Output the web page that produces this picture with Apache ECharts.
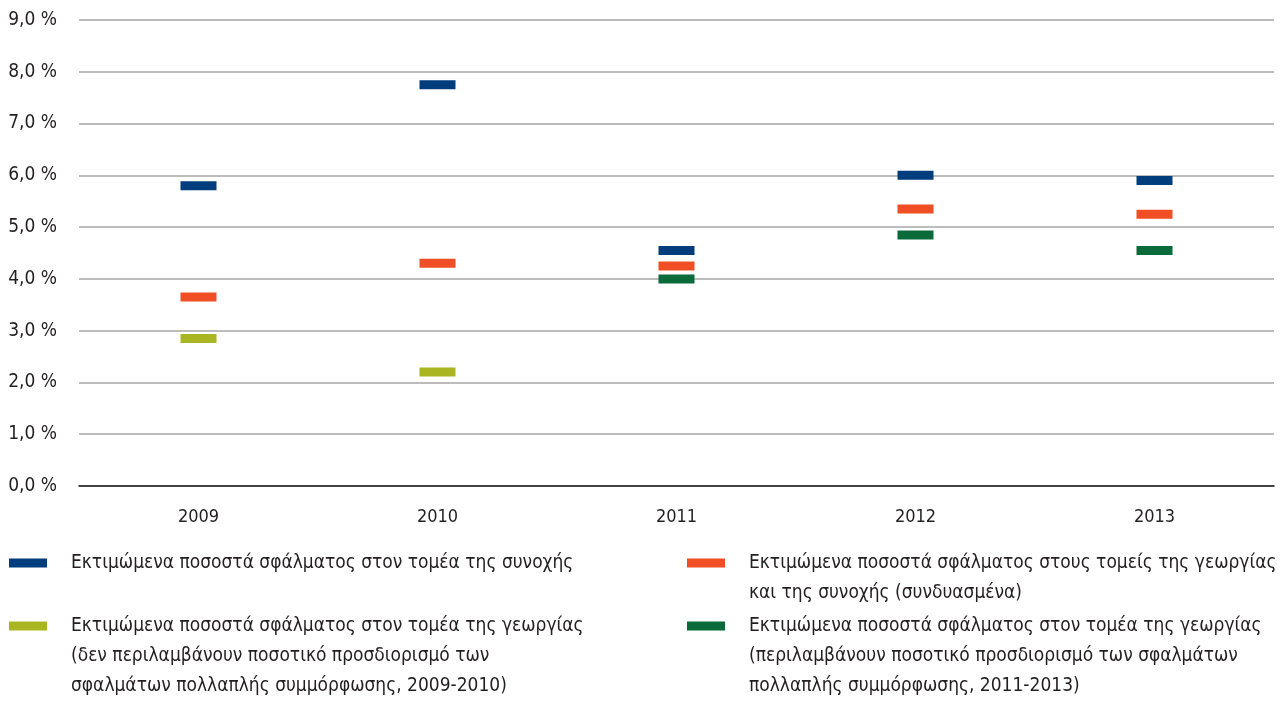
<!DOCTYPE html>
<html>
<head>
<meta charset="utf-8">
<script src="https://cdn.jsdelivr.net/npm/echarts@6/dist/echarts.min.js"></script>
<style>
  html, body { margin: 0; padding: 0; background: #fff; }
  #chart { width: 1287px; height: 702px; }
</style>
</head>
<body>
<div id="chart"></div>
<script>
// data
const years = ['2009', '2010', '2011', '2012', '2013']
const cohesion = [5.8, 7.75, 4.55, 6.0, 5.9]
const combined = [3.65, 4.3, 4.25, 5.35, 5.25]
const agriNoCC = [2.85, 2.2, null, null, null]
const agriCC = [null, null, 4.0, 4.85, 4.55]

const names = [
  'Εκτιμώμενα ποσοστά σφάλματος στον τομέα της συνοχής',
  'Εκτιμώμενα ποσοστά σφάλματος στους τομείς της γεωργίας\nκαι της συνοχής (συνδυασμένα)',
  'Εκτιμώμενα ποσοστά σφάλματος στον τομέα της γεωργίας\n(δεν περιλαμβάνουν ποσοτικό προσδιορισμό των\nσφαλμάτων πολλαπλής συμμόρφωσης, 2009-2010)',
  'Εκτιμώμενα ποσοστά σφάλματος στον τομέα της γεωργίας\n(περιλαμβάνουν ποσοτικό προσδιορισμό των σφαλμάτων\nπολλαπλής συμμόρφωσης, 2011-2013)'
]
const colors = ['#003d7c', '#f04e25', '#a9b621', '#0b6a39']

const font = "'Liberation Sans Narrow', 'DejaVu Sans Condensed', sans-serif"
const lineH = 30

// one legend per item so the 2x2 block can be placed like the original.
// legend text is always centred on the icon, so blank lines are put in
// front of multi-line names to bring the icon level with the first line
function legendFor(name, left, iconCenter) {
  const lines = name.split('\n').length
  return {
    data: [name],
    left: left,
    top: iconCenter - (2 * lines - 1) * lineH / 2,
    padding: 0,
    icon: 'rect',
    itemWidth: 38,
    itemHeight: 9,
    formatter: n => '\n'.repeat(lines - 1) + n,
    textStyle: {
      fontFamily: font,
      fontSize: 19,
      color: '#231f20',
      lineHeight: lineH,
      padding: [0, 0, 0, 19]
    }
  }
}

const chart = echarts.init(document.getElementById('chart'))

const series = [cohesion, combined, agriNoCC, agriCC].map((vals, i) => ({
  name: names[i],
  type: 'scatter',
  symbol: 'rect',
  symbolSize: [36, 9],
  itemStyle: { color: colors[i], opacity: 1 },
  data: vals
}))

chart.setOption({
  animation: false,
  color: colors,
  grid: { left: 79, right: 13, top: 20, bottom: 216 },
  legend: [
    legendFor(names[0], 9, 563),
    legendFor(names[2], 9, 626),
    legendFor(names[1], 687, 563),
    legendFor(names[3], 687, 626)
  ],
  xAxis: {
    type: 'category',
    data: years,
    boundaryGap: true,
    axisTick: { show: false },
    axisLine: { lineStyle: { color: '#1a1a1a', width: 1.5 } },
    axisLabel: { fontFamily: font, fontSize: 18, color: '#231f20', margin: 22 }
  },
  yAxis: {
    type: 'value',
    min: 0,
    max: 9,
    interval: 1,
    axisLine: { show: false },
    axisTick: { show: false },
    splitLine: { lineStyle: { color: '#a6a6a6', width: 1.5 } },
    axisLabel: {
      fontFamily: font,
      fontSize: 19,
      color: '#231f20',
      margin: 22,
      formatter: v => v.toFixed(1).replace('.', ',') + ' %'
    }
  },
  series: series
})
</script>
</body>
</html>
